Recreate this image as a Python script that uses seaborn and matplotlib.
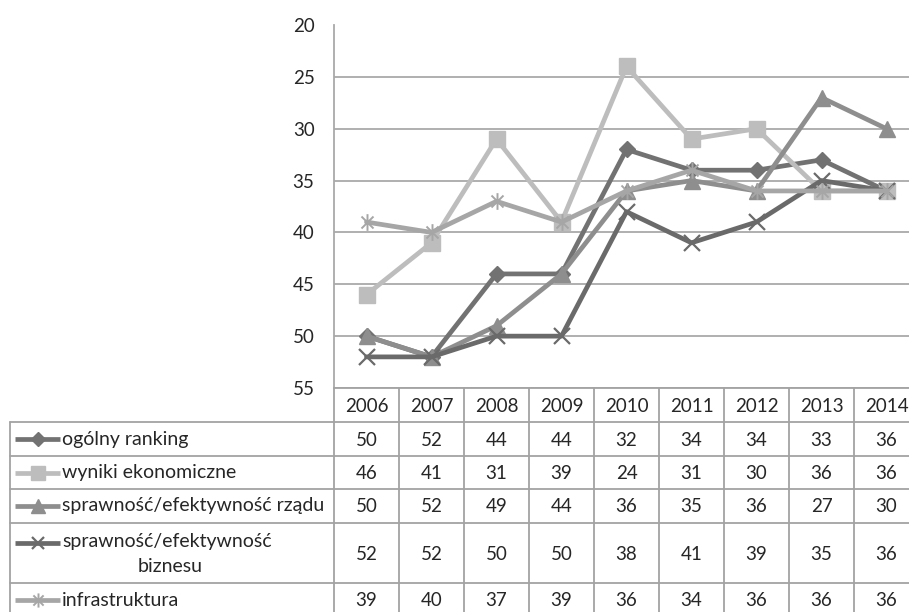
import numpy as np
import pandas as pd
import matplotlib
matplotlib.use("Agg")
import matplotlib.pyplot as plt
from matplotlib.path import Path
import seaborn as sns

years = ["2006", "2007", "2008", "2009", "2010", "2011", "2012", "2013", "2014"]
series_names = [
    "ogólny ranking",
    "wyniki ekonomiczne",
    "sprawność/efektywność rządu",
    "sprawność/efektywność biznesu",
    "infrastruktura",
]
ogolny = [50, 52, 44, 44, 32, 34, 34, 33, 36]
wyniki = [46, 41, 31, 39, 24, 31, 30, 36, 36]
rzad = [50, 52, 49, 44, 36, 35, 36, 27, 30]
biznes = [52, 52, 50, 50, 38, 41, 39, 35, 36]
infra = [39, 40, 37, 39, 36, 34, 36, 36, 36]
y_ticks = [20, 25, 30, 35, 40, 45, 50, 55]

values = [ogolny, wyniki, rzad, biznes, infra]

sns.set_theme(style="white")
plt.rcParams["font.family"] = ["Lato", "DejaVu Sans"]

# asterisk marker: x with a vertical bar
star = Path(
    [(0, -1), (0, 1), (-0.72, -0.72), (0.72, 0.72), (-0.72, 0.72), (0.72, -0.72)],
    [Path.MOVETO, Path.LINETO, Path.MOVETO, Path.LINETO, Path.MOVETO, Path.LINETO],
)

colors = ["#727272", "#bdbdbd", "#8e8e8e", "#6a6a6a", "#a6a6a6"]
markers = ["D", "s", "^", "x", star]
msizes = [8.5, 12, 12, 11, 12]
medge = [1, 1, 1, 1.6, 1.4]

W, H = 909, 612
fig = plt.figure(figsize=(W / 100, H / 100), dpi=100)

# plot area in pixel coordinates
px_left, px_right, px_top, px_bottom = 334, 919, 25, 388
col_w = (px_right - px_left) / len(years)
ax = fig.add_axes([px_left / W, 1 - px_bottom / H,
                   (px_right - px_left) / W, (px_bottom - px_top) / H])

grid_c = "#a9a9a9"
for t in y_ticks[1:]:
    ax.axhline(t, color=grid_c, lw=1.3, zorder=0)

x = np.arange(len(years))
for name, vals, c, m, ms, me in zip(series_names, values, colors, markers, msizes, medge):
    df = pd.DataFrame({"x": x, "y": vals})
    sns.lineplot(data=df, x="x", y="y", ax=ax, color=c, lw=3.4, marker=m,
                 markersize=ms, markeredgecolor=c, markerfacecolor=c,
                 markeredgewidth=me, clip_on=False, zorder=3)

ax.set_xlim(-0.5, len(years) - 0.5)
ax.set_ylim(55, 20)
ax.set_yticks(y_ticks)
ax.set_yticklabels([str(t) for t in y_ticks], fontsize=13.5, color="#262626")
ax.tick_params(axis="y", length=0, pad=14)
ax.set_xticks([])
ax.set_xlabel("")
ax.set_ylabel("")
for s in ["top", "right", "bottom"]:
    ax.spines[s].set_visible(False)
ax.spines["left"].set_color(grid_c)
ax.spines["left"].set_linewidth(1.3)

# data table drawn in pixel coordinates
tab = fig.add_axes([0, 0, 1, 1])
tab.set_xlim(0, W)
tab.set_ylim(H, 0)
tab.axis("off")
tab.patch.set_alpha(0)

line_c = "#a3a3a3"
row_edges = [388, 422, 456, 489, 523, 583, 620]
tab_left = 10

# horizontal rules
tab.plot([px_left, px_right], [388, 388], color=line_c, lw=1.3, clip_on=False)
for yy in row_edges[1:-1]:
    tab.plot([tab_left, px_right], [yy, yy], color=line_c, lw=1.3, clip_on=False)
# vertical rules
tab.plot([tab_left, tab_left], [422, 620], color=line_c, lw=1.3, clip_on=False)
tab.plot([px_left, px_left], [388, 620], color=line_c, lw=1.3, clip_on=False)
for k in range(1, len(years) + 1):
    xx = px_left + k * col_w
    tab.plot([xx, xx], [388, 620], color=line_c, lw=1.3, clip_on=False)

fs_num = 13.5
fs_lab = 14
txt_c = "#262626"
centers_x = [px_left + col_w * (i + 0.5) for i in range(len(years))]
for cx, yr in zip(centers_x, years):
    tab.text(cx, (388 + 422) / 2 + 1, yr, ha="center", va="center", fontsize=fs_num, color=txt_c)

row_centers = [(row_edges[i + 1] + row_edges[i]) / 2 for i in range(1, 6)]
row_centers[-1] = 600
for r, (name, vals, c, m, ms, me) in enumerate(zip(series_names, values, colors, markers, msizes, medge)):
    cy = row_centers[r]
    for cx, v in zip(centers_x, vals):
        tab.text(cx, cy + 1, str(v), ha="center", va="center", fontsize=fs_num, color=txt_c)
    key_y = cy if r != 3 else 543
    tab.plot([15, 60], [key_y, key_y], color=c, lw=3.4, solid_capstyle="butt")
    tab.plot([38], [key_y], marker=m, markersize=ms * 0.85, color=c,
             markeredgecolor=c, markeredgewidth=me)
    if r == 3:
        tab.text(62, 542, "sprawność/efektywność", ha="left", va="center", fontsize=fs_lab, color=txt_c)
        tab.text(170, 566, "biznesu", ha="center", va="center", fontsize=fs_lab, color=txt_c)
    else:
        tab.text(62, cy, name, ha="left", va="center", fontsize=fs_lab, color=txt_c)

fig.savefig("out.png", dpi=100, facecolor="white")
